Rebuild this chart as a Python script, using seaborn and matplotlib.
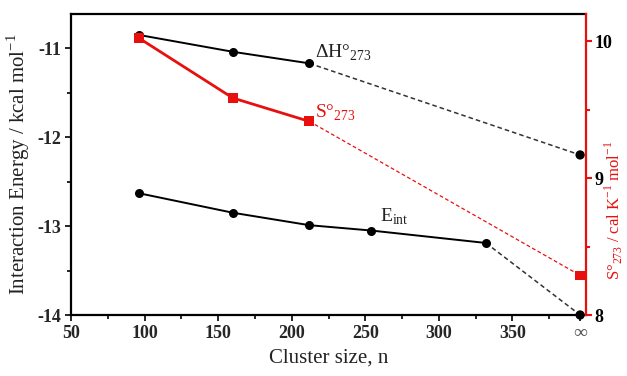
import matplotlib
matplotlib.use("Agg")
import matplotlib.pyplot as plt
import seaborn as sns
import pandas as pd
from matplotlib.ticker import MultipleLocator, FixedLocator

sns.set_theme(style="white")
plt.rcParams['font.family'] = ['Liberation Serif', 'DejaVu Serif']
plt.rcParams['mathtext.fontset'] = 'custom'
plt.rcParams['mathtext.rm'] = 'Liberation Serif'
plt.rcParams['axes.unicode_minus'] = False

# ---- data ----
INF_X = 396  # axis position used for n = infinity
dh_n = [96, 160, 212]
dh_val = [-10.85, -11.04, -11.17]
dh_inf = -12.20

s_n = [96, 160, 212]
s_val = [10.025, 9.586, 9.415]
s_inf = 8.29

e_n = [96, 160, 212, 254, 332]
e_val = [-12.63, -12.85, -12.99, -13.05, -13.19]
e_inf = -14.0

x_ticks = [50, 100, 150, 200, 250, 300, 350, INF_X]
x_ticklabels = ["50", "100", "150", "200", "250", "300", "350", "∞"]
yl_ticks = [-14, -13, -12, -11]
yr_ticks = [8, 9, 10]

RED = "#e8100f"

fig = plt.figure(figsize=(6.27, 3.76), dpi=100)
ax = fig.add_axes([71/627, 1 - 315/376, (586-71)/627, (315-14)/376])
ax2 = ax.twinx()

dh_df = pd.DataFrame({"n": dh_n, "v": dh_val})
e_df = pd.DataFrame({"n": e_n, "v": e_val})
s_df = pd.DataFrame({"n": s_n, "v": s_val})
dh_ext = pd.DataFrame({"n": [dh_n[-1], INF_X], "v": [dh_val[-1], dh_inf]})
e_ext = pd.DataFrame({"n": [e_n[-1], INF_X], "v": [e_val[-1], e_inf]})
s_ext = pd.DataFrame({"n": [s_n[-1], INF_X], "v": [s_val[-1], s_inf]})

sns.lineplot(data=dh_ext, x="n", y="v", ax=ax, color="#333333", lw=1.1,
             linestyle=(0, (3, 2)), clip_on=False)
sns.lineplot(data=e_ext, x="n", y="v", ax=ax, color="#333333", lw=1.1,
             linestyle=(0, (3, 2)), clip_on=False)
sns.lineplot(data=dh_df, x="n", y="v", ax=ax, color="black", lw=1.4,
             marker="o", markersize=6.5, markeredgewidth=0)
sns.lineplot(data=e_df, x="n", y="v", ax=ax, color="black", lw=1.4,
             marker="o", markersize=6.5, markeredgewidth=0)
sns.scatterplot(x=[INF_X, INF_X], y=[dh_inf, e_inf], ax=ax, color="black",
                s=45, edgecolor="none", clip_on=False, zorder=5)

sns.lineplot(data=s_ext, x="n", y="v", ax=ax2, color=RED, lw=0.9,
             linestyle=(0, (3, 2)))
sns.lineplot(data=s_df, x="n", y="v", ax=ax2, color=RED, lw=2.0,
             marker="s", markersize=6.5, markeredgewidth=0)
sns.scatterplot(x=[INF_X], y=[s_inf], ax=ax2, color=RED, marker="s",
                s=45, edgecolor="none", clip_on=False, zorder=5)

ax.set_xlim(50, 400)
ax.set_ylim(-14, -10.615)
ax2.set_ylim(8, 10.2)

ax.xaxis.set_major_locator(FixedLocator(x_ticks))
ax.set_xticklabels(x_ticklabels)
ax.xaxis.set_minor_locator(FixedLocator([75, 125, 175, 225, 275, 325, 375]))
ax.yaxis.set_major_locator(FixedLocator(yl_ticks))
ax.yaxis.set_minor_locator(MultipleLocator(0.5))
ax2.yaxis.set_major_locator(FixedLocator(yr_ticks))
ax2.yaxis.set_minor_locator(MultipleLocator(0.5))

for lab in ax.get_xticklabels() + ax.get_yticklabels():
    lab.set_fontweight("bold")
    lab.set_fontsize(13)
ax.get_xticklabels()[-1].set_fontweight("normal")
ax.get_xticklabels()[-1].set_fontsize(14)
ax.get_xticklabels()[-1].set_color("#555555")
for lab in ax2.get_yticklabels():
    lab.set_fontweight("bold")
    lab.set_fontsize(13)
    lab.set_color("black")

ax.tick_params(axis="both", which="major", direction="out", length=4, width=1.2,
               color="black", pad=3, bottom=True, left=True)
ax.tick_params(axis="both", which="minor", direction="out", length=3, width=1.2,
               color="black", bottom=True, left=True)
ax2.tick_params(axis="y", which="major", direction="out", length=4, width=1.5,
                color=RED, pad=2, right=True)
ax2.tick_params(axis="y", which="minor", direction="out", length=3, width=1.5,
                color=RED, right=True)

for side in ["left", "bottom", "top"]:
    ax.spines[side].set_color("black")
    ax.spines[side].set_linewidth(1.6)
ax.spines["right"].set_visible(False)
ax2.spines["right"].set_color(RED)
ax2.spines["right"].set_linewidth(1.6)
for side in ["left", "bottom", "top"]:
    ax2.spines[side].set_visible(False)

ax.set_xlabel("Cluster size, n", fontsize=15, color="#222222", labelpad=5)
ax.set_ylabel("Interaction Energy / kcal mol$^{-1}$", fontsize=15,
              color="#222222", labelpad=4)
ax2.set_ylabel("")
fig.text(614/627, 1 - 210/376, "S°$_{273}$ / cal K$^{-1}$ mol$^{-1}$",
         fontsize=12, color=RED, rotation=90, ha="center", va="center")

ax.text(216, -11.11, "ΔH°$_{273}$", fontsize=14, color="#222222")
ax2.text(216, 9.44, "S°$_{273}$", fontsize=14, color=RED)
ax.text(260, -12.95, "E$_{\\rm int}$", fontsize=14, color="#222222")

fig.savefig("out.png", dpi=100)
